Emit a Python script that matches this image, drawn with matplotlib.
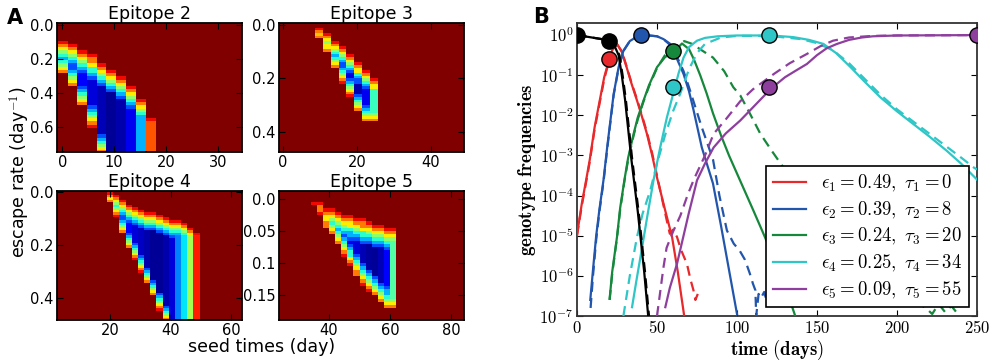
import numpy as np
import matplotlib
matplotlib.use('Agg')
import matplotlib.pyplot as plt
from matplotlib.ticker import FixedLocator, NullLocator

plt.rcParams['mathtext.fontset'] = 'cm'
plt.rcParams['font.family'] = 'DejaVu Sans'

# ---------------- panel A: likelihood surfaces ----------------
# per coloured column: seed time, top and bottom escape rate of the band,
# and the level of the band interior (0 = dark blue ... 1 = background red)
ep2_seed = [0.15, 1.95, 3.8, 5.7, 7.55, 9.4, 11.35, 13.25, 15.2, 17.15]
ep2_top = [0.10, 0.12, 0.16, 0.19, 0.235, 0.275, 0.31, 0.37, 0.44, 0.56]
ep2_bottom = [0.29, 0.37, 0.48, 0.60, 0.77, 1.0, 1.0, 1.0, 1.0, 1.0]
ep2_core = [0.25, 0.15, 0.12, 0.08, 0.05, 0.02, 0.04, 0.1, 0.3, 0.82]

ep3_seed = [9.85, 11.95, 14.05, 16.15, 18.25, 20.35, 22.45, 24.55]
ep3_top = [0.012, 0.037, 0.062, 0.087, 0.112, 0.15, 0.175, 0.21]
ep3_bottom = [0.052, 0.10, 0.162, 0.218, 0.268, 0.324, 0.361, 0.364]
ep3_core = [0.7, 0.4, 0.2, 0.1, 0.08, 0.04, 0.1, 0.42]

ep4_seed = [20.1, 22.13, 24.16, 26.19, 28.22, 30.25, 32.28, 34.31, 36.34,
            38.37, 40.4, 42.43, 44.46, 46.49, 48.52]
ep4_top = [0.004, 0.017, 0.032, 0.048, 0.06, 0.069, 0.079, 0.085, 0.094,
           0.101, 0.107, 0.113, 0.12, 0.135, 0.155]
ep4_bottom = [0.04, 0.092, 0.155, 0.211, 0.255, 0.30, 0.343, 0.394, 0.444,
              0.49, 0.7, 0.7, 0.7, 0.7, 0.7]
ep4_core = [0.6, 0.35, 0.18, 0.12, 0.08, 0.06, 0.04, 0.02, 0.02, 0.04,
            0.08, 0.25, 0.35, 0.55, 0.88]

ep5_seed = [35, 37, 39, 41, 43, 45, 47, 49, 51, 53, 55, 57, 59, 61]
ep5_top = [0.006, 0.01, 0.016, 0.019, 0.023, 0.027, 0.030, 0.033, 0.035,
           0.039, 0.041, 0.043, 0.046, 0.049]
ep5_bottom = [0.012, 0.024, 0.045, 0.057, 0.07, 0.088, 0.105, 0.12, 0.133,
              0.144, 0.152, 0.162, 0.17, 0.172]
ep5_core = [0.9, 0.6, 0.4, 0.3, 0.2, 0.12, 0.1, 0.08, 0.05, 0.03, 0.02,
            0.05, 0.12, 0.45]

# colour of the rows at the band edge, outermost first
edge_levels = [0.9, 0.78, 0.66, 0.52, 0.4, 0.3, 0.2]

# ---------------- panel B: genotype frequencies (log10) ----------------
black_t = [0, 20, 22, 24, 26, 28, 30, 34, 38, 42, 44.5]
black_lg = [0, -0.13, -0.2, -0.32, -0.5, -1.0, -1.6, -3.1, -4.4, -5.9, -7.0]
black_td = [0, 20, 22.5, 24.5, 26.5, 28.5, 30.5, 34.5, 38.5, 42.5, 45]
black_lgd = [0, -0.13, -0.2, -0.32, -0.5, -1.0, -1.6, -3.1, -4.4, -5.9, -7.0]

red_t = [0, 3, 6, 8, 11, 14.6, 17, 20, 22, 25, 28, 31, 34, 37.5, 40, 43.7,
         47, 50, 55, 59.4, 63, 67]
red_lg = [-4.98, -4.2, -3.55, -3.1, -2.3, -1.55, -1.05, -0.62, -0.38, -0.22,
          -0.42, -0.8, -1.2, -1.63, -1.95, -2.46, -3.0, -3.55, -4.35, -5.03,
          -5.9, -7.0]
red_td = [0, 3, 6, 8, 11, 14.6, 17, 20, 22, 25, 28, 31, 34, 37.5, 40, 43.7,
          47, 50, 53, 56, 58, 60, 62.5, 65, 68.7, 71, 72.8, 74, 75.5]
red_lgd = [-5.0, -4.25, -3.6, -3.15, -2.35, -1.6, -1.1, -0.65, -0.4, -0.23,
           -0.4, -0.78, -1.18, -1.6, -1.92, -2.42, -2.95, -3.5, -4.05, -4.6,
           -4.95, -4.85, -5.03, -5.35, -5.7, -6.1, -6.36, -6.6, -6.45]

blue_t = [8.3, 10, 12, 14, 16.6, 19, 22.9, 26, 29, 33, 37, 41, 45, 50, 54,
          58.3, 62, 66.6, 70, 72.9, 78, 85, 90, 95, 100]
blue_lg = [-6.6, -5.85, -5.0, -4.35, -3.6, -2.75, -1.47, -0.8, -0.39, -0.15,
           -0.05, -0.01, -0.01, -0.03, -0.1, -0.22, -0.55, -0.97, -1.4, -1.88,
           -2.8, -3.7, -4.75, -5.85, -6.95]
blue_td = [8.5, 10, 12, 14, 16.6, 19, 22.9, 26, 29, 33, 37, 41, 45, 50, 54,
           58.3, 62, 66.6, 70, 74, 78, 85, 89, 93.7, 98, 101.5, 105, 108, 110,
           111.5, 112, 113.5, 115, 117, 119, 121, 123]
blue_lgd = [-6.8, -6.0, -5.1, -4.4, -3.65, -2.8, -1.5, -0.82, -0.4, -0.15,
            -0.05, -0.01, -0.01, -0.03, -0.1, -0.25, -0.5, -0.9, -1.3, -1.8,
            -2.3, -3.1, -4.0, -4.87, -5.2, -5.36, -5.6, -5.94, -6.2, -6.36,
            -7.0, -6.45, -6.55, -6.4, -6.7, -6.5, -6.75]

green_t = [20.4, 22, 25, 27, 29.6, 32, 35.4, 38, 41.6, 45, 50, 55, 60.8, 65.6,
           70, 73, 77, 81, 85, 90, 95, 100, 105, 110, 116, 122.8, 130, 136.4]
green_lg = [-6.57, -5.9, -5.03, -4.3, -3.62, -3.05, -2.46, -2.05, -1.63,
            -1.25, -0.8, -0.55, -0.41, -0.21, -0.35, -0.6, -1.0, -1.45,
            -1.95, -2.5, -3.0, -3.45, -3.9, -4.35, -4.9, -5.53, -6.25, -7.0]
green_td = [20.4, 22, 25, 27, 29.6, 32, 35.4, 38, 41.6, 45, 50, 55, 60.8, 67,
            72, 78, 85, 92, 97.7, 102, 108, 114.6, 122, 129, 135, 140, 150,
            160, 175, 190, 205, 218, 222, 226, 230, 234, 238]
green_lgd = [-6.6, -5.95, -5.05, -4.35, -3.65, -3.1, -2.5, -2.1, -1.65, -1.28,
             -0.82, -0.5, -0.3, -0.15, -0.22, -0.38, -0.56, -0.9, -1.3, -1.5,
             -1.95, -2.46, -2.9, -3.3, -3.75, -4.1, -4.6, -5.0, -5.6, -6.1,
             -6.5, -6.8, -6.95, -6.7, -6.9, -6.75, -6.95]

cyan_t = [34.4, 37, 40, 44, 47.9, 52, 56.2, 61, 63.5, 66.6, 70, 75, 80, 88,
          100, 121.5, 135, 145, 154, 162, 171, 180, 189.6, 200, 210, 220, 231,
          240, 250]
cyan_lg = [-6.78, -6.15, -5.45, -4.5, -3.6, -2.8, -2.05, -1.33, -0.95, -0.56,
           -0.3, -0.14, -0.07, -0.03, -0.01, -0.01, -0.05, -0.12, -0.22,
           -0.45, -0.8, -1.17, -1.55, -1.9, -2.21, -2.52, -2.88, -3.2, -3.6]
cyan_td = [29, 33, 37.5, 41, 45.8, 50, 55, 60, 64.6, 70, 75, 80, 90, 100,
           120, 140, 150, 160, 170, 180, 190, 200, 210, 220, 230, 240, 248, 250]
cyan_lgd = [-7.0, -6.0, -5.03, -4.45, -3.87, -3.2, -2.5, -1.9, -1.45, -0.85,
            -0.45, -0.22, -0.06, -0.02, -0.02, -0.1, -0.2, -0.38, -0.7, -1.1,
            -1.5, -1.85, -2.15, -2.45, -2.75, -3.05, -3.3, -3.35]

purple_t = [55.2, 58, 62.5, 66, 69.8, 75, 80, 85.4, 93, 102, 110, 121.4, 130,
            137, 143.7, 150, 156, 162.5, 170, 178, 185, 200, 250]
purple_lg = [-6.78, -6.3, -5.7, -5.1, -4.45, -3.62, -3.2, -2.8, -2.45, -2.13,
             -1.8, -1.33, -1.05, -0.88, -0.72, -0.5, -0.33, -0.22, -0.12,
             -0.06, -0.03, -0.01, 0]
purple_td = [50, 52, 54, 56, 60, 64.6, 69, 73, 80, 85.4, 93, 102, 110, 123,
             133, 143.7, 152, 160, 170, 185, 200, 250]
purple_lgd = [-7.0, -6.4, -5.8, -5.3, -4.9, -4.5, -4.0, -3.6, -3.0, -2.46,
              -2.1, -1.65, -1.35, -0.97, -0.7, -0.47, -0.28, -0.14, -0.06,
              -0.02, -0.01, 0]

# sampled points (markers)
black_pts = ([0, 20], [1.0, 0.72])
red_pts = ([20], [0.25])
blue_pts = ([40], [1.0])
green_pts = ([60], [0.4])
cyan_pts = ([60, 120], [0.05, 1.0])
purple_pts = ([120, 250], [0.05, 1.0])

epsilons = [0.49, 0.39, 0.24, 0.25, 0.09]
taus = [0, 8, 20, 34, 55]


def band_grid(seed, top, bottom, core, dr, ymax):
    seed = np.asarray(seed, float)
    half = np.diff(seed).mean() / 2
    xedges = np.r_[seed[0] - half, (seed[:-1] + seed[1:]) / 2, seed[-1] + half]
    yedges = np.arange(0, ymax + dr, dr)
    yc = (yedges[:-1] + yedges[1:]) / 2
    z = np.full((len(yc), len(seed)), np.nan)
    for j in range(len(seed)):
        for i in np.where((yc >= top[j] - dr / 2) & (yc <= bottom[j]))[0]:
            k = int(min(round((yc[i] - top[j]) / dr), round((bottom[j] - yc[i]) / dr)))
            k = max(k, 0)
            edge = edge_levels[k] if k < len(edge_levels) else 0.0
            z[i, j] = max(core[j], edge)
    return xedges, yedges, np.ma.masked_invalid(z)


fig = plt.figure(figsize=(9.93, 3.6), dpi=100)
W, H = 993.0, 360.0


def px_axes(x0, y0, x1, y1):
    return fig.add_axes([x0 / W, 1 - y1 / H, (x1 - x0) / W, (y1 - y0) / H])


panels = [
    ('Epitope 2', (57, 23, 242, 152), ep2_seed, ep2_top, ep2_bottom, ep2_core,
     0.019, (-1, 34.6), (0.75, -0.01), [0, 10, 20, 30], [0.0, 0.2, 0.4, 0.6],
     ['0.0', '0.2', '0.4', '0.6']),
    ('Epitope 3', (279, 23, 464, 152), ep3_seed, ep3_top, ep3_bottom, ep3_core,
     0.01, (-1, 48.9), (0.475, -0.007), [0, 20, 40], [0.0, 0.2, 0.4],
     ['0.0', '0.2', '0.4']),
    ('Epitope 4', (57, 191, 242, 320), ep4_seed, ep4_top, ep4_bottom, ep4_core,
     0.0095, (2.6, 63.5), (0.482, -0.005), [20, 40, 60], [0.0, 0.2, 0.4],
     ['0.0', '0.2', '0.4']),
    ('Epitope 5', (279, 191, 464, 320), ep5_seed, ep5_top, ep5_bottom, ep5_core,
     0.005, (23.6, 84.2), (0.188, -0.012), [40, 60, 80], [0.0, 0.05, 0.1, 0.15],
     ['0.0', '0.05', '0.1', '0.15']),
]

cmap = plt.cm.jet
for (title, box, seed, top, bottom, core, dr, xl, yl, xt, yt, ytl) in panels:
    ax = px_axes(*box)
    ax.set_facecolor(cmap(1.0))
    xe, ye, z = band_grid(seed, top, bottom, core, dr, max(yl))
    ax.pcolormesh(xe, ye, z, cmap=cmap, vmin=0, vmax=1)
    ax.set_xlim(*xl)
    ax.set_ylim(*yl)
    ax.set_xticks(xt)
    ax.set_yticks(yt)
    ax.set_yticklabels(ytl)
    ax.tick_params(direction='in', top=True, right=True, length=4,
                   labelsize=10.5, pad=2.5)
    for s in ax.spines.values():
        s.set_linewidth(1.3)
    ax.set_title(title, fontsize=12.5, pad=3)

fig.text(15 / W, 1 - 18 / H, 'A', fontsize=15, fontweight='bold', va='center', ha='center')
fig.text(20 / W, 1 - 172 / H, 'escape rate (day$^{-1}$)', rotation=90,
         fontsize=12.5, va='center', ha='center')
fig.text(262 / W, 1 - 347 / H, 'seed times (day)', fontsize=12.5,
         va='center', ha='center')

# ---------------- panel B ----------------
axb = px_axes(577, 23, 977, 316)
colors = ['#e8282b', '#2256ad', '#16883c', '#2ec6c6', '#8e3f9e']
curves = [
    (red_t, red_lg, red_td, red_lgd, red_pts),
    (blue_t, blue_lg, blue_td, blue_lgd, blue_pts),
    (green_t, green_lg, green_td, green_lgd, green_pts),
    (cyan_t, cyan_lg, cyan_td, cyan_lgd, cyan_pts),
    (purple_t, purple_lg, purple_td, purple_lgd, purple_pts),
]
dash = (0, (4.5, 2.8))
handles = []
for c, (t, lg, td, lgd, pts), e, tau, n in zip(colors, curves, epsilons, taus,
                                               range(1, 6)):
    h, = axb.plot(t, 10 ** np.array(lg), color=c, lw=1.6, zorder=3,
                  label=r'$\epsilon_%d = %.2f,\ \tau_%d = %d$' % (n, e, n, tau))
    axb.plot(td, 10 ** np.array(lgd), color=c, lw=1.6, ls=dash, zorder=3)
    handles.append(h)
axb.plot(black_t, 10 ** np.array(black_lg), color='black', lw=1.6, zorder=3)
axb.plot(black_td, 10 ** np.array(black_lgd), color='black', lw=1.6,
         ls=dash, zorder=3)

for c, pts in zip(['black'] + colors,
                  [black_pts, red_pts, blue_pts, green_pts, cyan_pts, purple_pts]):
    axb.plot(pts[0], pts[1], 'o', ms=11, mfc=c, mec='black', mew=1.0,
             zorder=5, clip_on=True)

axb.set_yscale('log')
axb.set_xlim(0, 250)
axb.set_ylim(1e-7, 2)
axb.xaxis.set_major_locator(FixedLocator([0, 50, 100, 150, 200, 250]))
axb.set_xticklabels([r'$%d$' % v for v in [0, 50, 100, 150, 200, 250]])
ydec = list(range(-7, 1))
axb.yaxis.set_major_locator(FixedLocator([10.0 ** d for d in ydec]))
axb.yaxis.set_minor_locator(NullLocator())
axb.set_yticklabels([r'$10^{%d}$' % d for d in ydec])
axb.tick_params(direction='in', top=True, right=True, length=4,
                labelsize=12, pad=2.5)
for s in axb.spines.values():
    s.set_linewidth(1.3)
    s.set_color('#333333')
axb.set_xlabel(r'$\mathbf{time\ (days)}$', fontsize=13.5, labelpad=0)
axb.set_ylabel(r'$\mathbf{genotype\ frequencies}$', fontsize=13.5, labelpad=1)

leg = axb.legend(handles=handles, loc='lower right', bbox_to_anchor=(0.98, 0.03),
                 borderaxespad=0, fontsize=13.5, frameon=True, fancybox=False,
                 framealpha=1, edgecolor='black', labelspacing=0.3,
                 handlelength=1.8, borderpad=0.35, handletextpad=0.8)
leg.get_frame().set_linewidth(1.2)
leg.set_zorder(10)

fig.text(541 / W, 1 - 17 / H, 'B', fontsize=15, fontweight='bold', va='center', ha='center')

fig.savefig('out.png', dpi=100)
